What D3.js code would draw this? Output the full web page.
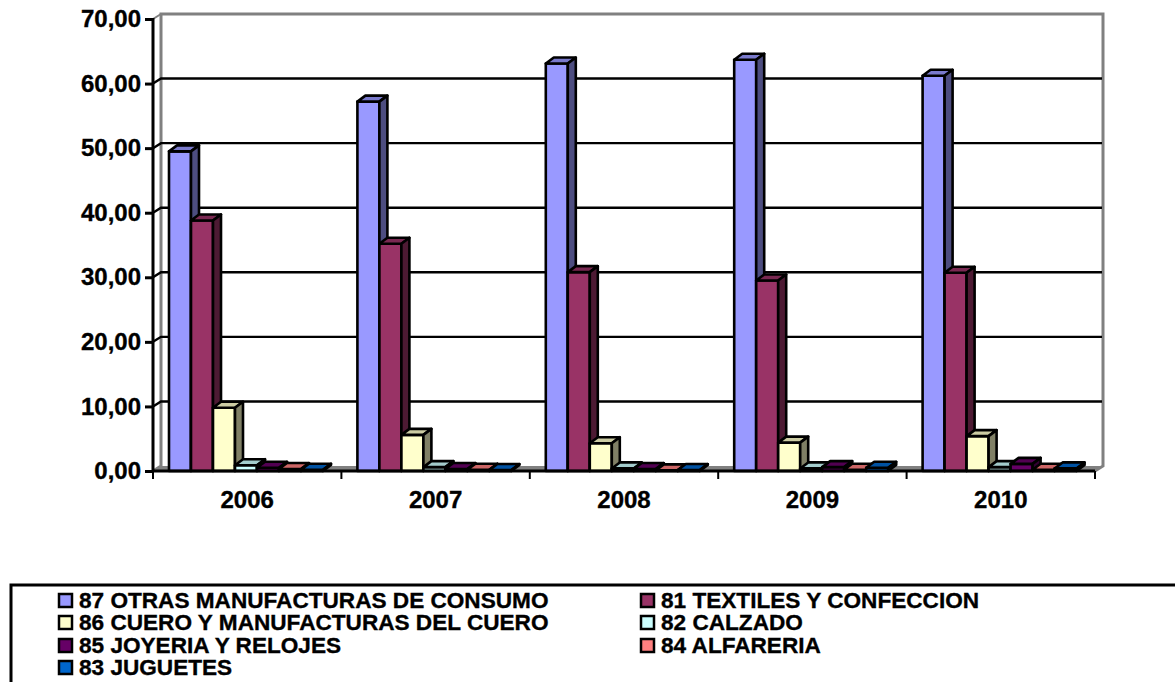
<!DOCTYPE html>
<html>
<head>
<meta charset="utf-8">
<script src="https://cdn.jsdelivr.net/npm/d3@7"></script>
<style>
html, body { margin: 0; padding: 0; background: #fff; overflow: hidden; }
svg { display: block; }
text { font-family: "Liberation Sans", Arial, sans-serif; font-weight: bold; fill: #000; stroke: #000; stroke-width: 0.35px; }
</style>
</head>
<body>
<svg id="chart"></svg>
<script>
const years = ["2006", "2007", "2008", "2009", "2010"];
const seriesNames = [
	"87 OTRAS MANUFACTURAS DE CONSUMO",
	"81 TEXTILES Y CONFECCION",
	"86 CUERO Y MANUFACTURAS DEL CUERO",
	"82 CALZADO",
	"85 JOYERIA Y RELOJES",
	"84 ALFARERIA",
	"83 JUGUETES"
];
const seriesColors = ["#9999ff", "#993366", "#ffffcc", "#ccffff", "#660066", "#ff8080", "#0066cc"];
const otras = [49.5, 57.2, 63.1, 63.7, 61.2];
const textiles = [38.8, 35.2, 30.8, 29.5, 30.7];
const cuero = [9.8, 5.6, 4.3, 4.4, 5.4];
const calzado = [0.9, 0.6, 0.4, 0.4, 0.6];
const joyeria = [0.5, 0.3, 0.3, 0.6, 1.1];
const alfareria = [0.3, 0.2, 0.1, 0.2, 0.2];
const juguetes = [0.2, 0.15, 0.15, 0.5, 0.4];
const seriesValues = [otras, textiles, cuero, calzado, joyeria, alfareria, juguetes];
const yTicks = [0, 10, 20, 30, 40, 50, 60, 70];

const [w, h] = [1175, 682];
const svg = d3.select("#chart").attr("width", w).attr("height", h);

const [plotLeft, plotRight, plotTop, plotBottom] = [153, 1095, 19, 471];
const [dx, dy] = [8, -5]; // depth of the walls
const [barDx, barDy] = [8, -6]; // depth of the bars

const xScale = d3.scaleBand().domain(years).range([plotLeft, plotRight]);
const barScale = d3.scaleBand().domain(d3.range(seriesNames.length)).range([16, 170]);
const yScale = d3.scaleLinear().domain([0, 70]).range([plotBottom, plotTop]);
const poly = (pts) => pts.map(p => p.join(",")).join(" ");
const fmt = (v) => v.toFixed(2).replace(".", ",");

// floor and walls
svg.append("polygon")
	.attr("points", poly([[plotLeft, plotBottom], [plotRight, plotBottom], [plotRight + dx, plotBottom + dy], [plotLeft + dx, plotBottom + dy]]))
	.attr("fill", "#808080");
svg.append("polyline")
	.attr("points", poly([[plotLeft, plotBottom], [plotLeft + dx, plotBottom + dy], [plotLeft + dx, plotTop + dy], [plotRight + dx, plotTop + dy], [plotRight + dx, plotBottom + dy], [plotRight, plotBottom]]))
	.attr("fill", "none").attr("stroke", "#808080").attr("stroke-width", 3);
svg.append("line")
	.attr("x1", plotLeft).attr("y1", plotTop).attr("x2", plotLeft + dx).attr("y2", plotTop + dy)
	.attr("stroke", "#808080").attr("stroke-width", 2);

// gridlines
yTicks.filter(t => t > 0 && t < 70).forEach((t) => {
	svg.append("polyline")
		.attr("points", poly([[plotLeft, yScale(t)], [plotLeft + dx, yScale(t) + dy], [plotRight + dx - 1, yScale(t) + dy]]))
		.attr("fill", "none").attr("stroke", "#000").attr("stroke-width", 2.4);
});

// bars
years.forEach((year, i) => {
	seriesNames.forEach((name, s) => {
		const x0 = xScale(year) + barScale(s);
		const x1 = x0 + barScale.bandwidth();
		const y1 = yScale(seriesValues[s][i]);
		const col = d3.color(seriesColors[s]);
		const g = svg.append("g").attr("stroke", "#000").attr("stroke-width", 2.6).attr("stroke-linejoin", "round");
		g.append("rect").attr("x", x0).attr("y", y1).attr("width", x1 - x0).attr("height", plotBottom - y1).attr("fill", seriesColors[s]);
		g.append("polygon").attr("points", poly([[x0, y1], [x1, y1], [x1 + barDx, y1 + barDy], [x0 + barDx, y1 + barDy]]))
			.attr("fill", d3.rgb(col.r * 0.8, col.g * 0.8, col.b * 0.8));
		g.append("polygon").attr("points", poly([[x1, y1], [x1 + barDx, y1 + barDy], [x1 + barDx, plotBottom + barDy], [x1, plotBottom]]))
			.attr("fill", d3.rgb(col.r * 0.5, col.g * 0.5, col.b * 0.5));
	});
});

// axes
const yAxis = d3.axisLeft(yScale).tickValues(yTicks).tickFormat(fmt).tickSize(8).tickPadding(4);
const gy = svg.append("g").attr("transform", `translate(${plotLeft}, 0)`).call(yAxis);
gy.selectAll("path, line").attr("stroke", "#000").attr("stroke-width", 3);
gy.select("path").attr("d", `M0,${plotTop - 1}V${plotBottom + 1}`);
gy.selectAll("text").style("font-size", "24px");

const xAxis = d3.axisBottom(xScale).tickSize(0).tickPadding(20);
const gx = svg.append("g").attr("transform", `translate(0, ${plotBottom})`).call(xAxis);
gx.select("path").attr("d", `M${plotLeft},0H${plotRight}`).attr("stroke", "#000").attr("stroke-width", 3);
gx.selectAll("text").style("font-size", "24px");
d3.range(years.length + 1).forEach((i) => {
	const x = plotLeft + i * xScale.bandwidth();
	gx.append("line").attr("x1", x).attr("x2", x).attr("y1", 0).attr("y2", 8).attr("stroke", "#000").attr("stroke-width", 2);
});

// legend, runs off the right and bottom of the picture
svg.append("rect").attr("x", 11).attr("y", 585).attr("width", 1200).attr("height", 140)
	.attr("fill", "none").attr("stroke", "#000").attr("stroke-width", 3);
const legendRows = [600, 622, 645, 667];
const legendCols = [59, 641];
seriesNames.forEach((name, s) => {
	const lx = legendCols[s % 2];
	const ly = legendRows[Math.floor(s / 2)];
	svg.append("rect").attr("x", lx).attr("y", ly - 6).attr("width", 13).attr("height", 13)
		.attr("fill", seriesColors[s]).attr("stroke", "#000").attr("stroke-width", 2.5);
	svg.append("text").attr("x", lx + 20).attr("y", ly + 7.5).style("font-size", "22.6px").text(name);
});
</script>
</body>
</html>
